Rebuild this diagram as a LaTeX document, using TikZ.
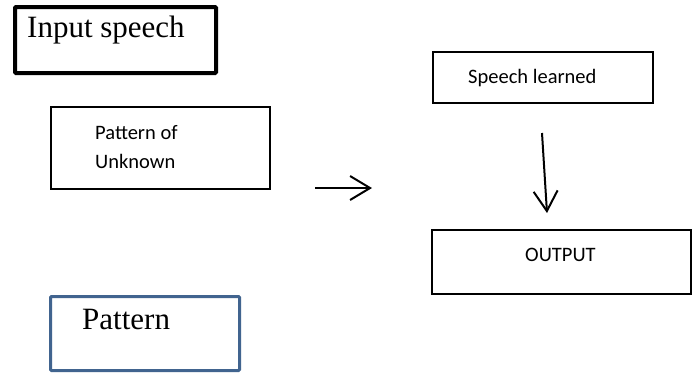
\documentclass[tikz,border=0pt]{standalone}
\usepackage{fontspec}
\setmainfont{Liberation Serif}
\newfontfamily\calibri{Carlito}
\usetikzlibrary{arrows.meta}
\definecolor{steel}{HTML}{41648F}
\begin{document}
\begin{tikzpicture}[x=1pt,y=-1pt,
  box/.style={draw=black, line width=1.4pt, rectangle, inner sep=0pt, fill=white},
  thickbox/.style={draw=black, line width=4pt, rectangle, rounded corners=1pt, inner sep=0pt},
  bluebox/.style={draw=steel, line width=3pt, rectangle, rounded corners=1pt, inner sep=0pt},
  serifbig/.style={font=\fontsize{31}{36}\selectfont, anchor=base west, inner sep=0pt},
  sanslbl/.style={font=\calibri\fontsize{20.5}{24}\selectfont, anchor=base west, inner sep=0pt},
  arr/.style={line width=2pt, -{Straight Barb[length=20pt,width=24pt,line width=2pt]}}
]
\useasboundingbox[fill=white] (0,0) rectangle (697,375);

% boxes
\node[thickbox, minimum width=201pt, minimum height=66pt] (inbox) at (115.5,40) {};
\node[box, minimum width=219pt, minimum height=82pt] (unk) at (160.5,148) {};
\node[box, minimum width=220pt, minimum height=51pt] (learn) at (543,77.5) {};
\node[box, minimum width=259pt, minimum height=64pt] (out) at (561.5,262) {};
\node[bluebox, minimum width=189pt, minimum height=74pt] (pat) at (145,333.5) {};

% texts
\node[serifbig] (tin) at (27,37) {Input speech};
\node[sanslbl] (tunk1) at (95,139) {Pattern of};
\node[sanslbl] (tunk2) at (95,168) {Unknown};
\node[sanslbl] (tlearn) at (468,83) {Speech learned};
\node[sanslbl] (tout) at (525,261) {OUTPUT};
\node[serifbig] (tpat) at (82,329) {Pattern};

% arrows
\coordinate (h1) at (315,188);
\coordinate (h2) at (372,188);
\coordinate (v1) at (542,133);
\coordinate (v2) at (547,213);
\draw[arr] (h1) -- (h2);
\draw[arr] (v1) -- (v2);
\end{tikzpicture}
\end{document}
